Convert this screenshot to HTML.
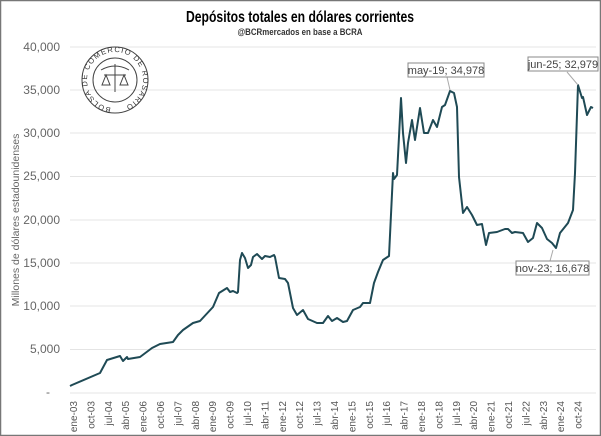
<!DOCTYPE html>
<html><head><meta charset="utf-8"><style>
body{margin:0;background:#fff}
svg{display:block}
text{font-family:"Liberation Sans",sans-serif}
</style></head><body>
<svg width="601" height="436" viewBox="0 0 601 436" xmlns="http://www.w3.org/2000/svg">
<rect x="0.5" y="0.5" width="600" height="435" fill="#fff" stroke="#777" stroke-width="1.5"/>
<text x="300" y="22" text-anchor="middle" font-size="16" font-weight="bold" textLength="228" lengthAdjust="spacingAndGlyphs">Depósitos totales en dólares corrientes</text>
<text x="300" y="35" text-anchor="middle" font-size="9.5" font-weight="bold" fill="#333" textLength="125" lengthAdjust="spacingAndGlyphs">@BCRmercados en base a BCRA</text>
<g stroke="#e4e4e4" stroke-width="1">
<line x1="70" x2="596" y1="47" y2="47"/><line x1="70" x2="596" y1="90" y2="90"/><line x1="70" x2="596" y1="133" y2="133"/><line x1="70" x2="596" y1="176.5" y2="176.5"/><line x1="70" x2="596" y1="220" y2="220"/><line x1="70" x2="596" y1="263" y2="263"/><line x1="70" x2="596" y1="306" y2="306"/><line x1="70" x2="596" y1="349.5" y2="349.5"/><line x1="70" x2="596" y1="393" y2="393"/>
</g>
<g font-size="12" fill="#666" text-anchor="end">
<text x="60" y="51">40,000</text><text x="60" y="94">35,000</text><text x="60" y="137">30,000</text><text x="60" y="180">25,000</text><text x="60" y="224">20,000</text><text x="60" y="267">15,000</text><text x="60" y="310">10,000</text><text x="60" y="353">5,000</text><text x="50" y="396">-</text>
</g>
<text transform="translate(19,220) rotate(-90)" text-anchor="middle" font-size="10.5" fill="#666">Millones de dólares estadounidenses</text>
<g font-size="10" fill="#555" text-anchor="end">
<text transform="translate(77,401) rotate(-90)">ene-03</text><text transform="translate(94.4,401) rotate(-90)">oct-03</text><text transform="translate(111.8,401) rotate(-90)">jul-04</text><text transform="translate(129.2,401) rotate(-90)">abr-05</text><text transform="translate(146.6,401) rotate(-90)">ene-06</text><text transform="translate(164,401) rotate(-90)">oct-06</text><text transform="translate(181.4,401) rotate(-90)">jul-07</text><text transform="translate(198.8,401) rotate(-90)">abr-08</text><text transform="translate(216.2,401) rotate(-90)">ene-09</text><text transform="translate(233.6,401) rotate(-90)">oct-09</text><text transform="translate(251,401) rotate(-90)">jul-10</text><text transform="translate(268.4,401) rotate(-90)">abr-11</text><text transform="translate(285.8,401) rotate(-90)">ene-12</text><text transform="translate(303.2,401) rotate(-90)">oct-12</text><text transform="translate(320.6,401) rotate(-90)">jul-13</text><text transform="translate(338,401) rotate(-90)">abr-14</text><text transform="translate(355.4,401) rotate(-90)">ene-15</text><text transform="translate(372.8,401) rotate(-90)">oct-15</text><text transform="translate(390.2,401) rotate(-90)">jul-16</text><text transform="translate(407.6,401) rotate(-90)">abr-17</text><text transform="translate(425,401) rotate(-90)">ene-18</text><text transform="translate(442.4,401) rotate(-90)">oct-18</text><text transform="translate(459.8,401) rotate(-90)">jul-19</text><text transform="translate(477.2,401) rotate(-90)">abr-20</text><text transform="translate(494.6,401) rotate(-90)">ene-21</text><text transform="translate(512,401) rotate(-90)">oct-21</text><text transform="translate(529.4,401) rotate(-90)">jul-22</text><text transform="translate(546.8,401) rotate(-90)">abr-23</text><text transform="translate(564.2,401) rotate(-90)">ene-24</text><text transform="translate(581.6,401) rotate(-90)">oct-24</text>
</g>
<g stroke="#444" stroke-width="1" fill="none">
<circle cx="115" cy="80" r="33"/><circle cx="115" cy="80" r="22"/>
<path d="M104 75 h22 M115 64 v28 M106 75 l-4 10 h8 z M124 75 l-4 10 h8 z M101 70 q14 -8 28 0"/>
</g>
<path id="arc" d="M115 108 a28 28 0 1 1 0.1 0" fill="none"/>
<text font-size="7.5" fill="#333"><textPath href="#arc" startOffset="4" textLength="160" lengthAdjust="spacing">BOLSA DE COMERCIO DE ROSARIO</textPath></text>
<polyline fill="none" stroke="#1f4a55" stroke-width="2" stroke-linejoin="round" points="70,386 72,385 100,373 107,360 120,356 123,361 127,357 128,359 140,357 152,348 160,344 173,342 178,335 183,330 193,323 200,321 213,307 219,293 227,288 230,292 233,291 237,293 238,292 240,260 242,253 245,258 248,268 251,265 253,257 257,254 262,259 265,256 270,257 274,255 275,257 279,278 285,279 288,283 293,308 297,315 303,310 308,319 317,323 323,323 328,316 332,321 337,318 343,322 347,321 353,310 360,307 363,303 370,303 374,283 378,272 383,260 389,256 393,173 394,179 397,175 401,98 403,133 406,163 408,143 412,120 415,140 420,108 424,133 428,133 433,120 437,127 442,107 445,105 450,91 454,93 457,107 459,177 463,213 467,207 472,215 477,225 482,224 486,245 489,233 497,232 505,229 508,229 512,233 515,232 523,233 528,242 533,238 537,223 542,228 547,239 552,243 556,248 560,233 568,223 573,210 575,173 578,85 582,98 583,97 587,115 591,107 593,108"/>
<g stroke="#aaa" stroke-width="1"><line x1="447" y1="77" x2="450" y2="90"/><line x1="567" y1="72" x2="578" y2="85"/><line x1="553" y1="250" x2="550" y2="261"/></g>
<g fill="#fff" stroke="#888" stroke-width="1"><rect x="408" y="63" width="76" height="14"/><rect x="528" y="57" width="70" height="14"/><rect x="516" y="261" width="73" height="14"/></g>
<g font-size="11" fill="#444" text-anchor="middle">
<text x="446" y="74">may-19;  34,978</text><text x="563" y="68">jun-25;  32,979</text><text x="552.5" y="272">nov-23;  16,678</text>
</g>
</svg>
</body></html>
